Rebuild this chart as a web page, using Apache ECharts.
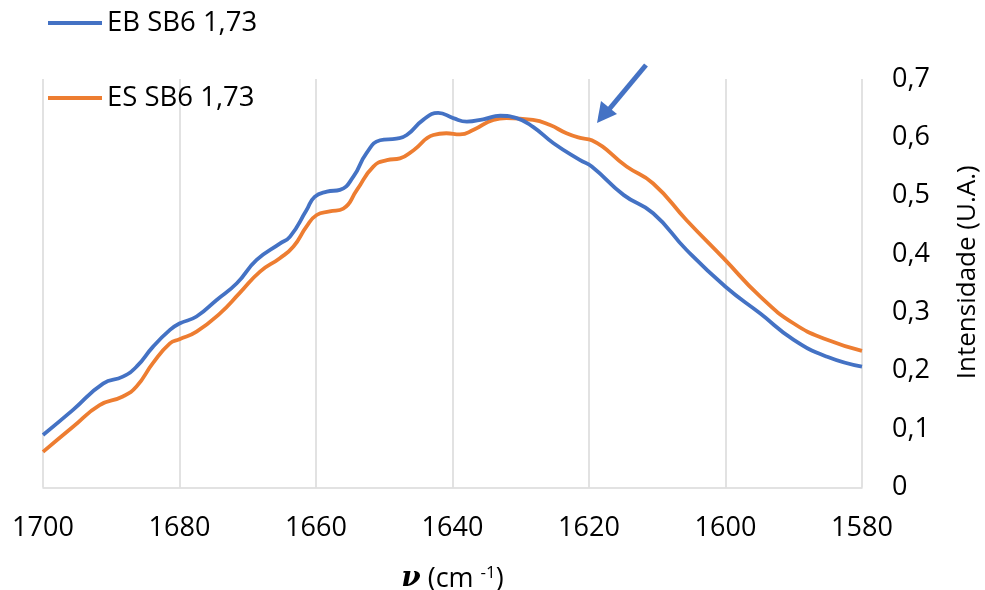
<!DOCTYPE html>
<html>
<head>
<meta charset="utf-8">
<script src="https://cdn.jsdelivr.net/npm/echarts@6/dist/echarts.min.js"></script>
<style>
  html, body { margin: 0; padding: 0; background: #fff; overflow: hidden; width: 985px; height: 590px; }
  #chart { width: 985px; height: 590px; position: absolute; left: 0; top: 0; }
</style>
</head>
<body>
<div id="chart"></div>
<script>
// Wavenumbers (cm-1) and intensities (U.A.) for each spectrum
const ebWavenumber = [1700, 1695.6, 1691.2, 1688.3, 1686.3, 1683.9, 1681.4, 1680, 1677.5, 1674.6,
  1671.6, 1668.7, 1665.3, 1663.8, 1661.4, 1660.2, 1658.4, 1656.5, 1654.5, 1652.6,
  1650.6, 1648.2, 1646.7, 1644.3, 1642.1, 1639.9, 1637.9, 1635.5, 1633.0, 1630.6,
  1628.2, 1625.2, 1621.3, 1619.6, 1614.9, 1610.6, 1605.7, 1600, 1594.9, 1590, 1585.1, 1580];
const ebIntensity = [0.090, 0.133, 0.178, 0.190, 0.207, 0.241, 0.270, 0.281, 0.293, 0.321,
  0.350, 0.390, 0.418, 0.430, 0.475, 0.498, 0.507, 0.510, 0.533, 0.573,
  0.595, 0.598, 0.604, 0.630, 0.642, 0.633, 0.627, 0.631, 0.637, 0.633,
  0.618, 0.590, 0.561, 0.550, 0.501, 0.470, 0.407, 0.344, 0.298, 0.253, 0.224, 0.207];

const esWavenumber = [1700, 1695.6, 1691.7, 1688.3, 1686.3, 1683.9, 1681.4, 1680, 1677.5, 1674.1,
  1671.2, 1668.2, 1665.3, 1663.3, 1661.4, 1659.9, 1658.0, 1656.0, 1654.0, 1651.6,
  1649.6, 1647.7, 1645.7, 1642.8, 1640.9, 1638.9, 1636.9, 1634.0, 1632.1, 1628.2,
  1625.7, 1623.3, 1621.3, 1619.6, 1614.5, 1610.6, 1605.7, 1600.3, 1594.9, 1590, 1585.1, 1580];
const esIntensity = [0.061, 0.104, 0.141, 0.156, 0.173, 0.213, 0.247, 0.254, 0.267, 0.298,
  0.333, 0.370, 0.393, 0.413, 0.447, 0.467, 0.473, 0.478, 0.510, 0.550,
  0.561, 0.564, 0.578, 0.604, 0.607, 0.605, 0.613, 0.630, 0.633, 0.630,
  0.621, 0.607, 0.599, 0.595, 0.550, 0.521, 0.458, 0.393, 0.327, 0.281, 0.253, 0.234];

const seriesNames = ['EB SB6 1,73', 'ES SB6 1,73'];
const seriesColors = ['#4472C4', '#ED7D31'];

const FONT = '"Open Sans", sans-serif';
const pair = (xs, ys) => xs.map((x, i) => [x, ys[i]]);

const chart = echarts.init(document.getElementById('chart'), null, { renderer: 'canvas', width: 985, height: 590 });

chart.setOption({
  backgroundColor: '#ffffff',
  animation: false,
  textStyle: { fontFamily: FONT, color: '#000' },
  grid: { left: 43, right: 123, top: 79, bottom: 102.5, containLabel: false, outerBoundsMode: 'none' },
  legend: {
    orient: 'vertical',
    left: 43,
    top: 4,
    itemGap: 47,
    itemWidth: 54,
    itemHeight: 4,
    icon: 'rect',
    textStyle: { fontFamily: FONT, fontSize: 27.5, color: '#000' },
    data: seriesNames
  },
  xAxis: {
    type: 'value',
    inverse: true,
    min: 1580,
    max: 1700,
    interval: 20,
    axisLine: { show: true, lineStyle: { color: '#D9D9D9', width: 1.5 } },
    axisTick: { show: false },
    splitLine: { show: true, lineStyle: { color: '#D9D9D9', width: 1.5 } },
    axisLabel: { margin: 27, fontSize: 27, color: '#000', fontFamily: FONT, formatter: v => String(v) },
    name: '{nu|ν} (cm {sup|-1})',
    nameLocation: 'middle',
    nameGap: 77,
    nameTextStyle: {
      fontSize: 27, color: '#000', fontFamily: FONT,
      rich: {
        nu: { fontSize: 28, fontWeight: 'bold', fontStyle: 'italic', fontFamily: '"DejaVu Serif", serif', color: '#000' },
        sup: { fontSize: 17, verticalAlign: 'top', padding: [0, 0, 12, 0], color: '#000', fontFamily: FONT }
      }
    }
  },
  yAxis: {
    type: 'value',
    position: 'right',
    min: 0,
    max: 0.7,
    interval: 0.1,
    axisLine: { show: false },
    axisTick: { show: false },
    splitLine: { show: false },
    axisLabel: {
      margin: 30,
      fontSize: 27,
      color: '#000',
      fontFamily: FONT,
      formatter: v => (Math.round(v * 10) / 10).toString().replace('.', ',')
    },
    name: 'Intensidade (U.A.)',
    nameLocation: 'middle',
    nameRotate: 90,
    nameGap: 93,
    nameTextStyle: { fontSize: 26, color: '#000', fontFamily: FONT, padding: [0, 0, 0, 22] }
  },
  series: [
    {
      name: seriesNames[0],
      type: 'line',
      data: pair(ebWavenumber, ebIntensity),
      smooth: 0.5,
      showSymbol: false,
      symbol: 'none',
      color: seriesColors[0],
      lineStyle: { width: 3.8, color: seriesColors[0] },
      z: 3
    },
    {
      name: seriesNames[1],
      type: 'line',
      data: pair(esWavenumber, esIntensity),
      smooth: 0.5,
      showSymbol: false,
      symbol: 'none',
      color: seriesColors[1],
      lineStyle: { width: 3.8, color: seriesColors[1] },
      z: 2
    }
  ],
  // Arrow pointing at the shoulder near 1620 cm-1
  graphic: [
    {
      type: 'line',
      shape: { x1: 646, y1: 65, x2: 606, y2: 113 },
      style: { stroke: '#4472C4', lineWidth: 5 },
      z: 10
    },
    {
      type: 'polygon',
      shape: { points: [[597, 123], [601, 101], [617, 114]] },
      style: { fill: '#4472C4' },
      z: 10
    }
  ]
});
</script>
</body>
</html>
